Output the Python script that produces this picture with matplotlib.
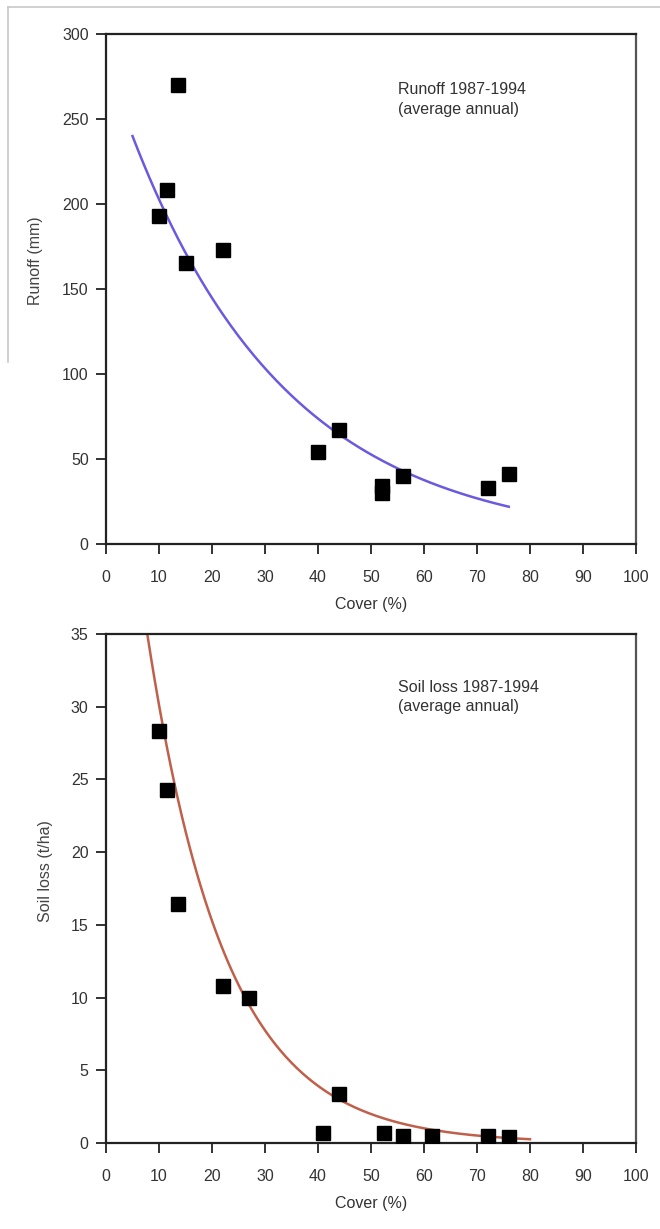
import numpy as np
import matplotlib
matplotlib.use("Agg")
import matplotlib.pyplot as plt
from matplotlib.lines import Line2D

plt.rcParams['font.family'] = ['Liberation Sans', 'DejaVu Sans']

# Runoff observations
runoff_cover = [13.5, 11.5, 10.0, 15.0, 22.0, 40.0, 44.0, 52.0, 52.0, 56.0, 72.0, 76.0]
runoff_mm = [270, 208, 193, 165, 173, 54, 67, 34, 30, 40, 33, 41]
# exponential trend y = a * exp(-b * x)
runoff_fit = (284.0, 0.0337)
runoff_fit_range = (5.0, 76.0)

# Soil loss observations
soil_cover = [10.0, 11.5, 13.5, 22.0, 27.0, 41.0, 44.0, 52.5, 56.0, 61.5, 72.0, 76.0]
soil_loss = [28.3, 24.3, 16.4, 10.8, 10.0, 0.7, 3.4, 0.7, 0.5, 0.5, 0.5, 0.4]
soil_fit = (59.4, 0.0679)
soil_fit_range = (7.8, 80.0)

x_ticks = list(range(0, 101, 10))

W, H = 660, 1229
fig = plt.figure(figsize=(W / 100, H / 100), dpi=100)

# light frame along the top-left
fig.add_artist(Line2D([8 / W, 660 / W], [1 - 7 / H, 1 - 7 / H], color='#c8c8c8', lw=1.2))
fig.add_artist(Line2D([8 / W, 8 / W], [1 - 7 / H, 1 - 362 / H], color='#c8c8c8', lw=1.2))

FS = 11.5


def style(ax, yticks, ylim):
    ax.set_xlim(0, 100)
    ax.set_ylim(*ylim)
    ax.set_xticks(x_ticks)
    ax.set_yticks(yticks)
    for s in ax.spines.values():
        s.set_linewidth(1.6)
        s.set_color('#222222')
    ax.spines['right'].set_color('#555555')
    ax.tick_params(direction='out', length=7.5, width=1.3, labelsize=FS,
                   colors='#222222', labelcolor='#333333')
    ax.tick_params(axis='y', pad=5)
    ax.tick_params(axis='x', pad=11)
    ax.set_xlabel('Cover (%)', fontsize=FS, color='#333333', labelpad=9)


# Runoff panel
ax1 = fig.add_axes([106 / W, 1 - 544 / H, 530 / W, 510 / H])
style(ax1, range(0, 301, 50), (0, 300))
xf = np.linspace(*runoff_fit_range, 200)
ax1.plot(xf, runoff_fit[0] * np.exp(-runoff_fit[1] * xf), color='#6a5ae0', lw=1.8, zorder=2)
ax1.plot(runoff_cover, runoff_mm, 's', color='black', ms=9.5, zorder=3)
ax1.set_ylabel('Runoff (mm)', fontsize=FS, color='#444444')
ax1.yaxis.set_label_coords(-0.119, 0.555)
ax1.text(0.551, 0.905, 'Runoff 1987-1994\n(average annual)', transform=ax1.transAxes,
         fontsize=FS, color='#333333', va='top', ha='left', linespacing=1.35)

# Soil loss panel
ax2 = fig.add_axes([106 / W, 1 - 1143 / H, 530 / W, 509 / H])
style(ax2, range(0, 36, 5), (0, 35))
xf = np.linspace(*soil_fit_range, 200)
ax2.plot(xf, soil_fit[0] * np.exp(-soil_fit[1] * xf), color='#c0604a', lw=1.8, zorder=2)
ax2.plot(soil_cover, soil_loss, 's', color='black', ms=9.5, zorder=3)
ax2.set_ylabel('Soil loss (t/ha)', fontsize=FS, color='#444444')
ax2.yaxis.set_label_coords(-0.10, 0.535)
ax2.text(0.551, 0.91, 'Soil loss 1987-1994\n(average annual)', transform=ax2.transAxes,
         fontsize=FS, color='#333333', va='top', ha='left', linespacing=1.35)

fig.savefig('out.png', dpi=100)
